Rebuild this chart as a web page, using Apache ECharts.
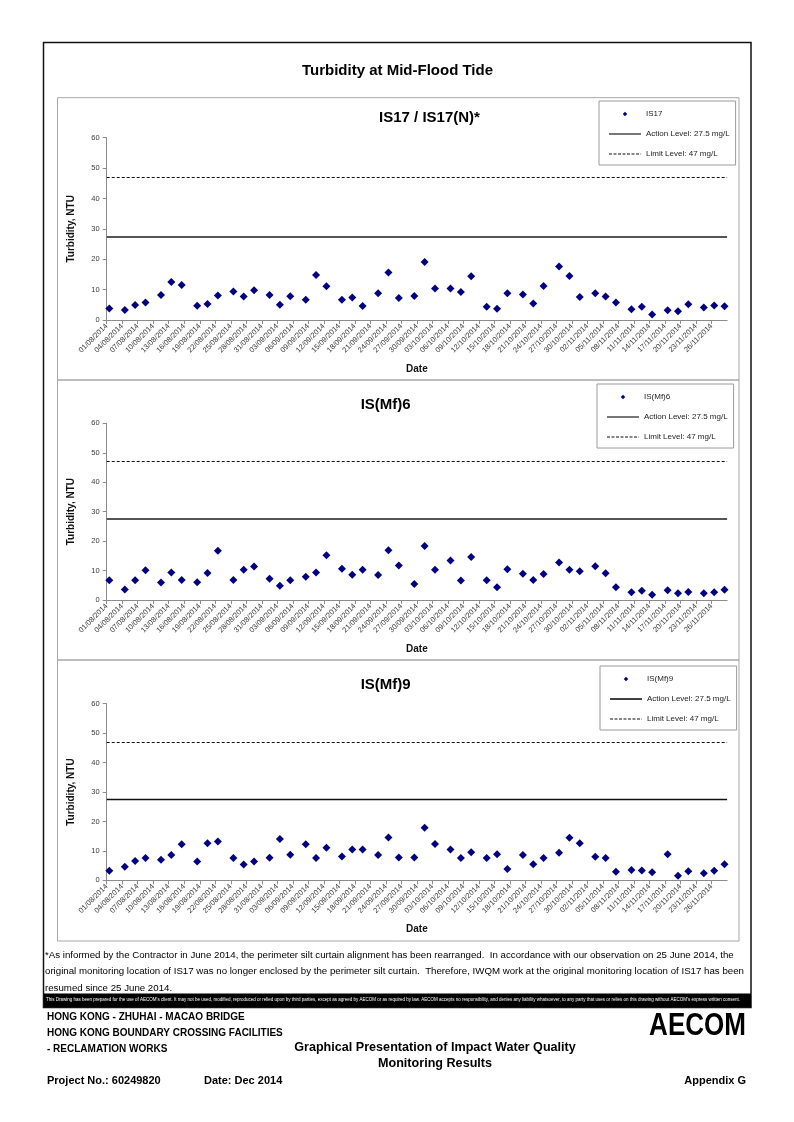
<!DOCTYPE html>
<html>
<head>
<meta charset="utf-8">
<script src="https://cdn.jsdelivr.net/npm/echarts@6/dist/echarts.min.js"></script>
<style>
html,body{margin:0;padding:0;background:#fff;}
#c{width:794px;height:1122px;}
</style>
</head>
<body>
<div id="c"></div>
<script>
// ---------------- DATA ----------------
const sampleDates = [
  '01/08/2014','04/08/2014','06/08/2014','08/08/2014','11/08/2014','13/08/2014','15/08/2014',
  '18/08/2014','20/08/2014','22/08/2014','25/08/2014','27/08/2014','29/08/2014',
  '01/09/2014','03/09/2014','05/09/2014','08/09/2014','10/09/2014','12/09/2014',
  '15/09/2014','17/09/2014','19/09/2014','22/09/2014','24/09/2014','26/09/2014',
  '29/09/2014','01/10/2014','03/10/2014','06/10/2014','08/10/2014','10/10/2014',
  '13/10/2014','15/10/2014','17/10/2014','20/10/2014','22/10/2014','24/10/2014',
  '27/10/2014','29/10/2014','31/10/2014','03/11/2014','05/11/2014','07/11/2014',
  '10/11/2014','12/11/2014','14/11/2014','17/11/2014','19/11/2014','21/11/2014',
  '24/11/2014','26/11/2014','28/11/2014'
];
const is17Values = [
  3.8,3.3,4.9,5.8,8.2,12.5,11.5,4.7,5.3,8.1,9.4,7.7,9.8,
  8.2,5.0,7.8,6.7,14.8,11.1,6.7,7.4,4.6,8.8,15.6,7.2,
  7.9,19.1,10.4,10.4,9.2,14.4,4.4,3.7,8.8,8.4,5.4,11.2,
  17.6,14.5,7.6,8.8,7.7,5.8,3.5,4.4,1.8,3.2,2.9,5.2,4.1,4.8,4.5
];
const isMf6Values = [
  6.7,3.6,6.7,10.1,5.9,9.3,6.8,6.0,9.2,16.7,6.8,10.3,11.4,
  7.2,4.8,6.7,7.9,9.3,15.2,10.6,8.6,10.3,8.5,16.9,11.7,
  5.4,18.3,10.3,13.4,6.6,14.6,6.7,4.3,10.4,8.9,6.8,8.8,
  12.7,10.3,9.8,11.5,9.1,4.3,2.6,3.1,1.8,3.3,2.3,2.7,2.3,2.6,3.5
];
const isMf9Values = [
  3.3,4.6,6.6,7.6,7.0,8.6,12.3,6.4,12.6,13.2,7.6,5.4,6.4,
  7.7,14.1,8.7,12.3,7.6,11.1,8.1,10.5,10.5,8.6,14.6,7.8,
  7.8,17.9,12.4,10.5,7.6,9.6,7.6,8.9,3.9,8.6,5.5,7.6,
  9.4,14.5,12.6,8.0,7.6,2.9,3.5,3.4,2.8,8.9,1.6,3.1,2.4,3.3,5.5
];
const stationNames = ['IS17','IS(Mf)6','IS(Mf)9'];
const panelTitles = ['IS17 / IS17(N)*','IS(Mf)6','IS(Mf)9'];
const ACTION_LEVEL = 27.5;
const LIMIT_LEVEL = 47;
const actionName = 'Action Level: 27.5 mg/L';
const limitName = 'Limit Level: 47 mg/L';
const axisStartDate = '01/08/2014';   // first day on the date axis
const axisDays = 120;                  // axis spans 01/08/2014 .. end of 28/11/2014
const dateTickStep = 3;                // one date label every 3 days
const yMin = 0, yMax = 60, yStep = 10;
const yAxisName = 'Turbidity, NTU';
const xAxisName = 'Date';

// ---------------- HELPERS ----------------
function parseDMY(s){ const p = s.split('/'); return Date.UTC(+p[2], +p[1]-1, +p[0]); }
const DAY = 86400000;
const startMs = parseDMY(axisStartDate);
function dayIndex(s){ return Math.round((parseDMY(s) - startMs) / DAY); }
function fmtDay(v){
  const d = new Date(startMs + Math.round(v) * DAY);
  const dd = String(d.getUTCDate()).padStart(2,'0');
  const mm = String(d.getUTCMonth()+1).padStart(2,'0');
  return dd + '/' + mm + '/' + d.getUTCFullYear();
}

// ---------------- LAYOUT ----------------
const FONT = 'Liberation Sans, Arial, Helvetica, sans-serif';
const grids = [
  {left:106.7, top:137.7, width:620.4, height:182.3},
  {left:106.7, top:423.3, width:620.4, height:176.7},
  {left:106.7, top:703.7, width:620.4, height:176.7}
];
const legendPos = [{left:599, top:101},{left:597, top:384},{left:600, top:666}];
const titlePos = [{x:429.5,y:118},{x:385.7,y:405},{x:385.7,y:685}];
const actionStyles = [
  {color:'#555', width:2},
  {color:'#555', width:2},
  {color:'#111', width:1.3}
];
const seriesValues = [is17Values, isMf6Values, isMf9Values];
const MARKER_COLOR = '#000080';

// legend icons (shape only)
const ICON_DIAMOND = 'path://M0,0L0,0M10,10L10,10M5,1.8L8.2,5L5,8.2L1.8,5Z';
const ICON_SOLID = 'path://M0,0L32,0L32,1.6L0,1.6Z';
let dashPath = 'path://';
for (let x = 0; x < 32; x += 4.5) { const w = Math.min(3, 32 - x); dashPath += 'M' + x + ',0h' + w + 'v1.2h-' + w + 'Z'; }
const ICON_DASH = dashPath;

const option = {
  animation:false,
  backgroundColor:'#fff',
  textStyle:{fontFamily:FONT},
  grid: grids.map(g => Object.assign({containLabel:false}, g)),
  xAxis: grids.map((g,i) => ({
    type:'value', gridIndex:i, min:0, max:axisDays, interval:dateTickStep,
    splitLine:{show:false},
    axisLine:{show:true, onZero:false, lineStyle:{color:'#8c8c8c', width:1}},
    axisTick:{show:true, length:4, lineStyle:{color:'#8c8c8c'}},
    axisLabel:{rotate:45, fontSize:7.5, color:'#3a3a3a', margin:5, showMaxLabel:false,
      fontFamily:FONT, formatter:(v)=>fmtDay(v)},
    name:xAxisName, nameLocation:'middle', nameGap:44,
    nameTextStyle:{fontWeight:'bold', fontSize:10, color:'#111', fontFamily:FONT}
  })),
  yAxis: grids.map((g,i) => ({
    type:'value', gridIndex:i, min:yMin, max:yMax, interval:yStep,
    splitLine:{show:false},
    axisLine:{show:true, lineStyle:{color:'#8c8c8c', width:1}},
    axisTick:{show:true, length:4, lineStyle:{color:'#8c8c8c'}},
    axisLabel:{fontSize:7.5, color:'#3a3a3a', margin:7, fontFamily:FONT},
    name:yAxisName, nameLocation:'middle', nameGap:30,
    nameTextStyle:{fontWeight:'bold', fontSize:10, color:'#111', fontFamily:FONT}
  })),
  legend: grids.map((g,i) => ({
    orient:'vertical', left:legendPos[i].left, top:legendPos[i].top,
    data:[
      {name:stationNames[i], icon:ICON_DIAMOND, itemStyle:{color:MARKER_COLOR, opacity:1}},
      {name:actionName, icon:ICON_SOLID, itemStyle:{color:actionStyles[i].color, opacity:1}},
      {name:limitName, icon:ICON_DASH, itemStyle:{color:'#111', opacity:1}}
    ],
    itemWidth:32, itemHeight:7, itemGap:12,
    symbolKeepAspect:true,
    padding:[9,6,7,10],
    borderColor:'#9a9a9a', borderWidth:1, backgroundColor:'#fff',
    selectedMode:false,
    textStyle:{fontSize:8, color:'#222', fontFamily:FONT}
  })),
  series: [],
  graphic: []
};

grids.forEach((g,i) => {
  option.series.push({
    type:'scatter', name:stationNames[i], xAxisIndex:i, yAxisIndex:i,
    symbol:'diamond', symbolSize:8,
    itemStyle:{color:MARKER_COLOR, opacity:1},
    data: sampleDates.map((d,k) => [dayIndex(d) + 0.5, seriesValues[i][k]])
  });
  option.series.push({
    type:'scatter', name:actionName, xAxisIndex:i, yAxisIndex:i, data:[],
    itemStyle:{color:actionStyles[i].color},
    markLine:{silent:true, symbol:'none', label:{show:false},
      lineStyle:{color:actionStyles[i].color, width:actionStyles[i].width, type:'solid', opacity:1},
      data:[{yAxis:ACTION_LEVEL}]}
  });
  option.series.push({
    type:'scatter', name:limitName, xAxisIndex:i, yAxisIndex:i, data:[],
    itemStyle:{color:'#111'},
    markLine:{silent:true, symbol:'none', label:{show:false},
      lineStyle:{color:'#111', width:1.2, type:[3,2], opacity:1},
      data:[{yAxis:LIMIT_LEVEL}]}
  });
});

// ---------------- PAGE DECORATION ----------------
const G = option.graphic;
function txt(x,y,text,o,extra){
  G.push(Object.assign({type:'text', x:x, y:y, silent:true, z:10,
    style:Object.assign({text:text, fontFamily:FONT, fontSize:10, fill:'#000',
      align:'left', verticalAlign:'middle'}, o||{})}, extra||{}));
}
// outer frame
G.push({type:'rect', silent:true, z:1, shape:{x:43.5, y:42.5, width:707.5, height:965},
  style:{fill:null, stroke:'#111', lineWidth:1.5}});
// panel frames
[[97.7,380],[380,660],[660,941]].forEach(p => {
  G.push({type:'rect', silent:true, z:1, shape:{x:57.5, y:p[0], width:681.5, height:p[1]-p[0]},
    style:{fill:null, stroke:'#a8a8a8', lineWidth:1}});
});
// main title
txt(397.5, 71, 'Turbidity at Mid-Flood Tide', {fontSize:15, fontWeight:'bold', align:'center'});
// panel titles
panelTitles.forEach((t,i) => txt(titlePos[i].x, titlePos[i].y, t, {fontSize:15, fontWeight:'bold', align:'center'}));
// footnote
const footLines = [
  '*As informed by the Contractor in June 2014, the perimeter silt curtain alignment has been rearranged.  In accordance with our observation on 25 June 2014, the',
  'original monitoring location of IS17 was no longer enclosed by the perimeter silt curtain.  Therefore, IWQM work at the original monitoring location of IS17 has been',
  'resumed since 25 June 2014.'
];
footLines.forEach((t,k) => txt(45, 955.5 + k*16.3, t, {fontSize:9.7}));
// black disclaimer bar
G.push({type:'rect', silent:true, z:2, shape:{x:44, y:993.5, width:707, height:13.5}, style:{fill:'#000'}});
txt(46, 1000, "This Drawing has been prepared for the use of AECOM's client. It may not be used, modified, reproduced or relied upon by third parties, except as agreed by AECOM or as required by law. AECOM accepts no responsibility, and denies any liability whatsoever, to any party that uses or relies on this drawing without AECOM's express written consent.",
  {fontSize:4.5, fill:'#fff'});
// bottom block
txt(47, 1017, 'HONG KONG - ZHUHAI - MACAO BRIDGE', {fontSize:10, fontWeight:'bold'});
txt(47, 1033, 'HONG KONG BOUNDARY CROSSING FACILITIES', {fontSize:10, fontWeight:'bold'});
txt(47, 1049, '- RECLAMATION WORKS', {fontSize:10, fontWeight:'bold'});
txt(435, 1048, 'Graphical Presentation of Impact Water Quality', {fontSize:12.6, fontWeight:'bold', align:'center'});
txt(435, 1064, 'Monitoring Results', {fontSize:12.6, fontWeight:'bold', align:'center'});
txt(47, 1081, 'Project No.: 60249820', {fontSize:11, fontWeight:'bold'});
txt(204, 1081, 'Date: Dec 2014', {fontSize:11, fontWeight:'bold'});
txt(746, 1081, 'Appendix G', {fontSize:11, fontWeight:'bold', align:'right'});
txt(746, 1026, 'AECOM', {fontSize:31, fontWeight:900, align:'right'}, {scaleX:0.84});

const chart = echarts.init(document.getElementById('c'), null, {renderer:'canvas'});
chart.setOption(option);
</script>
</body>
</html>
